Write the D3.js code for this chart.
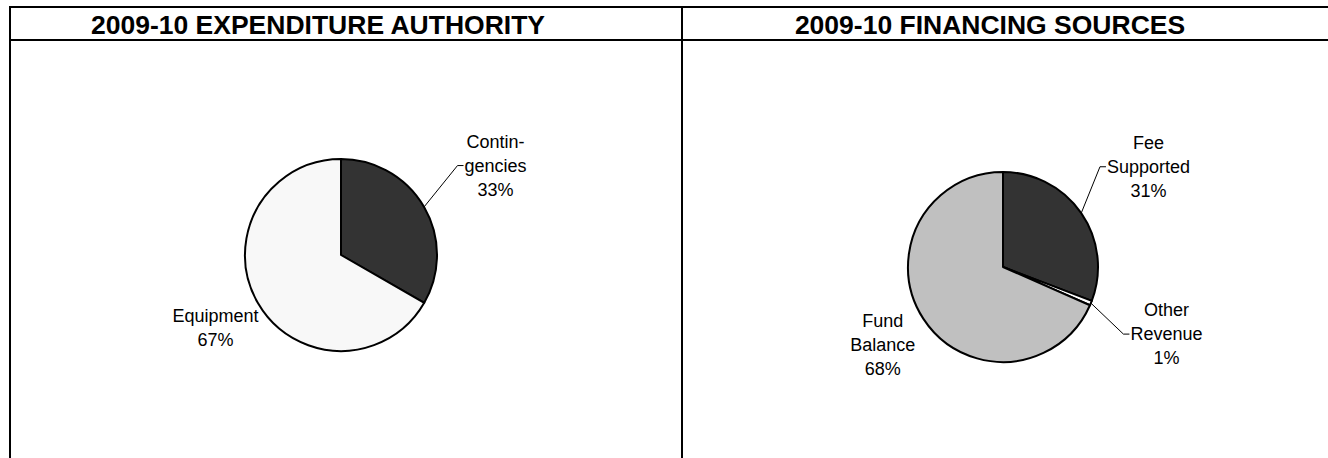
<!DOCTYPE html>
<html lang="en">
<head>
  <meta charset="UTF-8" />
  <title>2009-10 Expenditure Authority / Financing Sources</title>
  <script src="https://d3js.org/d3.v7.min.js"></script>
  <style>
    html, body { margin: 0; padding: 0; background: white; }
    svg { display: block; font-family: "Liberation Sans", Arial, sans-serif; }
    .frame { stroke: black; stroke-width: 2px; fill: none; }
    .title { font-weight: bold; font-size: 26.5px; text-anchor: middle; }
    .slice { stroke: black; stroke-width: 2px; stroke-linejoin: round; }
    .lbl { font-size: 18px; text-anchor: middle; fill: black; }
    .leader { stroke: black; stroke-width: 1px; fill: none; }
  </style>
</head>
<body>
  <svg id="chart" width="1328" height="458"></svg>

  <script>
    // chart data
    const panelTitles = ["2009-10 EXPENDITURE AUTHORITY", "2009-10 FINANCING SOURCES"];

    const expCategories = ["Contingencies", "Equipment"];
    const expValues = [33.3, 66.7];
    const expLabels = [["Contin-", "gencies"], ["Equipment"]];

    const finCategories = ["Fee Supported", "Other Revenue", "Fund Balance"];
    const finValues = [30.8, 0.8, 68.4];
    const finLabels = [["Fee", "Supported"], ["Other", "Revenue"], ["Fund", "Balance"]];

    const expColors = ["#333333", "#f8f8f8"];
    const finColors = ["#333333", "#ffffff", "#c0c0c0"];

    const svg = d3.select("#chart"),
          width = +svg.attr("width"),
          height = +svg.attr("height");

    const frameTop = 7, headBottom = 40, leftX = 10, midX = 682;

    // frame lines
    svg.append("line").attr("class", "frame").attr("x1", leftX - 1).attr("x2", width).attr("y1", frameTop).attr("y2", frameTop);
    svg.append("line").attr("class", "frame").attr("x1", leftX).attr("x2", width).attr("y1", headBottom).attr("y2", headBottom);
    svg.append("line").attr("class", "frame").attr("x1", leftX).attr("x2", leftX).attr("y1", frameTop - 1).attr("y2", height);
    svg.append("line").attr("class", "frame").attr("x1", midX).attr("x2", midX).attr("y1", frameTop - 1).attr("y2", height);

    const panels = [
      { x0: leftX, cx: 341, cy: 255, r: 96, cats: expCategories, vals: expValues, labels: expLabels, colors: expColors },
      { x0: midX,  cx: 1003, cy: 267, r: 95, cats: finCategories, vals: finValues, labels: finLabels, colors: finColors }
    ];

    const pct = d3.format(".0%");
    const lineH = 24;

    panels.forEach((p, pi) => {
      svg.append("text")
        .attr("class", "title")
        .attr("x", p.x0 + 308)
        .attr("y", 34)
        .text(panelTitles[pi]);

      const rows = p.cats.map((c, i) => ({ name: c, value: p.vals[i], lines: p.labels[i], color: p.colors[i] }));
      const total = d3.sum(rows, d => d.value);
      const pie = d3.pie().sort(null).value(d => d.value);
      const arc = d3.arc().innerRadius(0).outerRadius(p.r);
      const arcs = pie(rows);

      const g = svg.append("g").attr("transform", `translate(${p.cx},${p.cy})`);

      g.selectAll("path.slice")
        .data(arcs)
        .join("path")
        .attr("class", "slice")
        .attr("fill", d => d.data.color)
        .attr("d", arc)
        .append("title")
        .text(d => `${d.data.name}: ${pct(d.data.value / total)}`);

      arcs.forEach(d => {
        const mid = (d.startAngle + d.endAngle) / 2;
        const withLeader = mid < Math.PI;
        const lr = p.r * (withLeader ? 1.86 : 1.51);
        const lx = lr * Math.sin(mid), ly = -lr * Math.cos(mid);
        const lines = d.data.lines.concat([pct(d.data.value / total)]);
        const y0 = ly - (lines.length - 1) / 2 * lineH + 6;

        const t = g.append("text").attr("class", "lbl");
        const spans = lines.map((s, i) =>
          t.append("tspan").attr("x", lx).attr("y", y0 + i * lineH).text(s));

        if (withLeader) {
          const midLine = Math.floor((lines.length - 1) / 2);
          const w = spans[midLine].node().getComputedTextLength();
          const tx = lx - w / 2 - 1;
          const ty = y0 + midLine * lineH - 6;
          const sx = p.r * Math.sin(mid), sy = -p.r * Math.cos(mid);
          g.append("path")
            .attr("class", "leader")
            .attr("d", d3.line()([[sx, sy], [tx - 6, ty], [tx, ty]]));
        }
      });
    });
  </script>
</body>
</html>
